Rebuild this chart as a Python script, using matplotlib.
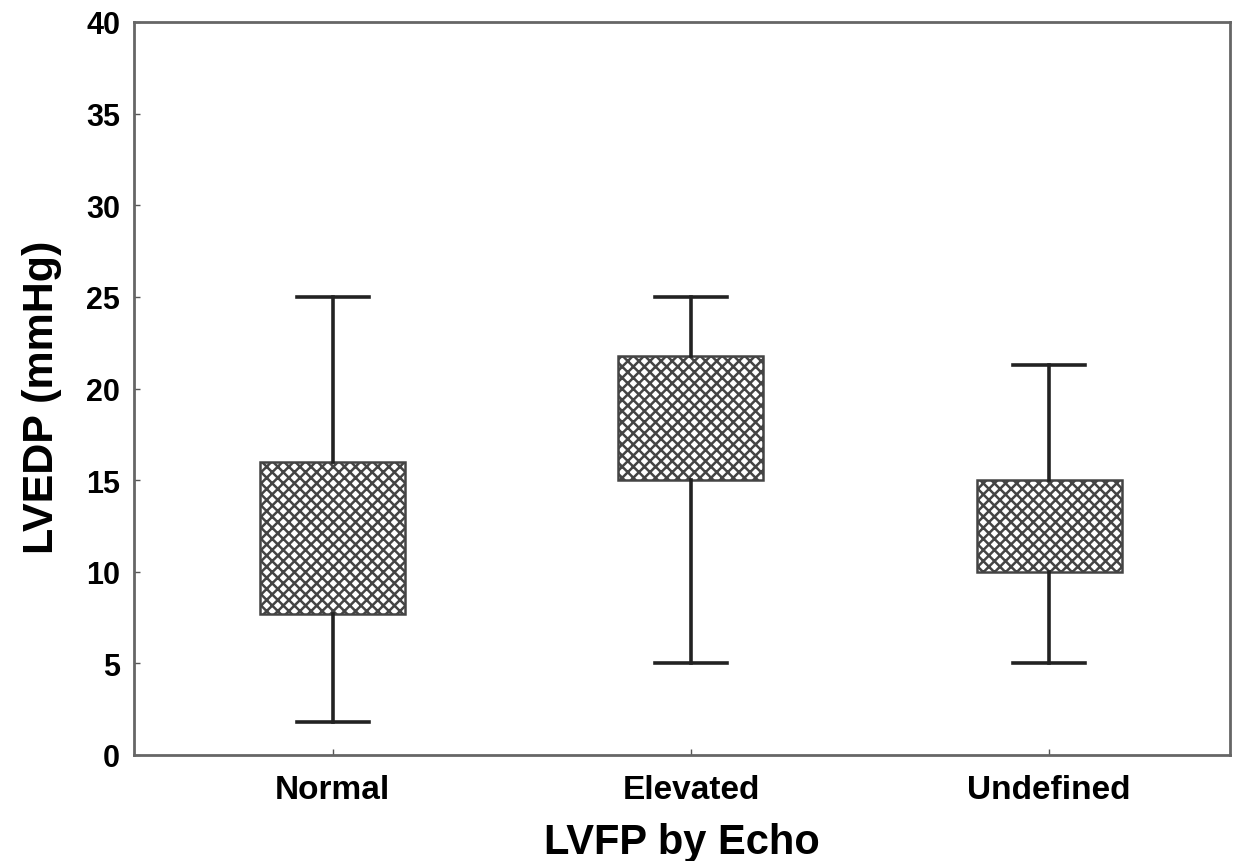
import matplotlib
matplotlib.use('Agg')
import matplotlib.pyplot as plt
import numpy as np

# Box plot data (mmHg)
groups = ['Normal', 'Elevated', 'Undefined']
q1 = [7.7, 15.0, 10.0]
q3 = [16.0, 21.8, 15.0]
whis_lo = [1.8, 5.0, 5.0]
whis_hi = [25.0, 25.0, 21.3]

plt.rcParams['font.family'] = ['Liberation Sans', 'DejaVu Sans']
plt.rcParams['font.weight'] = 'bold'
plt.rcParams['hatch.linewidth'] = 1.8
plt.rcParams['hatch.color'] = '#333333'

fig = plt.figure(figsize=(12.43, 8.62), dpi=100)
ax = fig.add_axes([134/1243, 1 - 756/862, 1096/1243, (756 - 23)/862])

stats = []
for i in range(len(groups)):
    stats.append(dict(label=groups[i], q1=q1[i], q3=q3[i], med=q1[i],
                      whislo=whis_lo[i], whishi=whis_hi[i], fliers=[]))

pos = np.arange(len(groups))
bp = ax.bxp(stats, positions=pos, widths=0.405, patch_artist=True,
            showfliers=False,
            boxprops=dict(facecolor='white', edgecolor='#444444', linewidth=1.8),
            whiskerprops=dict(color='#222222', linewidth=2.6),
            capprops=dict(color='#222222', linewidth=2.6),
            medianprops=dict(linestyle='none'),
            capwidths=0.2)
for b in bp['boxes']:
    b.set_hatch('xxx')

ax.set_xlim(-0.555, 2.505)
ax.set_ylim(0, 40)
ax.set_yticks(range(0, 41, 5))
ax.set_xticks(pos)
ax.set_xticklabels(groups)
ax.tick_params(direction='in', length=4, width=1, color='#555555', labelsize=22, pad=10)
ax.tick_params(axis='x', labelsize=24, pad=14)

for s in ax.spines.values():
    s.set_color('#666666')
    s.set_linewidth(2)

ax.set_xlabel('LVFP by Echo', fontsize=30, fontweight='bold', labelpad=12)
ax.set_ylabel('LVEDP (mmHg)', fontsize=31, fontweight='bold', labelpad=8)
ax.yaxis.set_label_coords(-0.066, 0.49)

fig.savefig('out.png', dpi=100)
